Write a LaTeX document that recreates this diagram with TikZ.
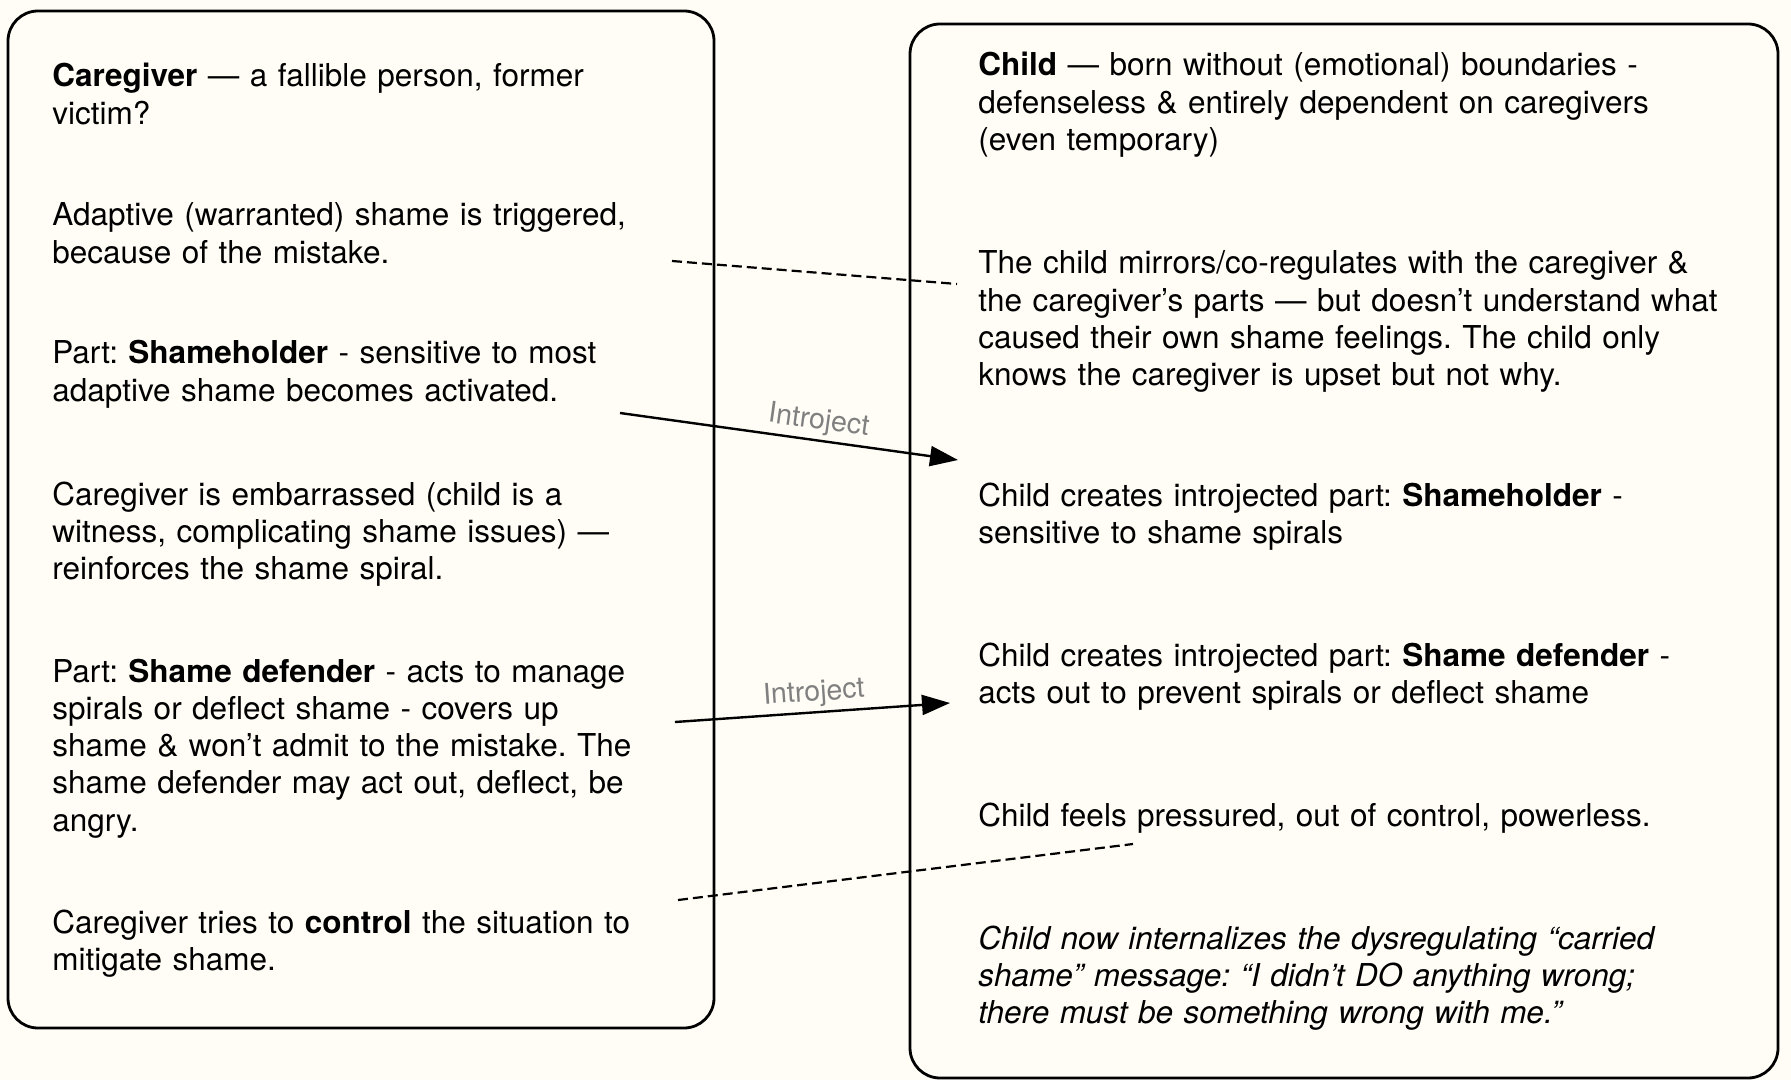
\documentclass[tikz,border=0pt]{standalone}
\usepackage{fontspec}
\setmainfont{TeX Gyre Heros}
\usetikzlibrary{arrows.meta}
\definecolor{paper}{HTML}{FFFDF6}
\definecolor{tagGray}{HTML}{808080}
\frenchspacing

\tikzset{
  panel/.style={draw=black, line width=1.4pt, rounded corners=15pt},
  blurb/.style={anchor=base west, inner sep=0pt, align=left, text width=#1,
    font=\fontsize{15.75}{18.65}\selectfont},
  blurb/.default=340pt,
  introject/.style={-{Triangle[length=14pt,width=10pt]}, line width=1.2pt},
  echo/.style={line width=1.1pt, dash pattern=on 5pt off 2.5pt},
  tag/.style={sloped, above, text=tagGray, inner sep=2pt,
    font=\fontsize{14.3}{16}\selectfont}
}

\begin{document}
\begin{tikzpicture}[x=0.5pt, y=-0.5pt]
        % page
        \fill[paper] (0,0) rectangle (1791,1080);
        \useasboundingbox (0,0) rectangle (1791,1080);

        % two panels
        \draw[panel] (8,11) rectangle (714,1028);
        \draw[panel] (910,24) rectangle (1778,1078);

        % caregiver side
        % ---------------
        \node[blurb] (cgWho) at (52,87)
            {\textbf{Caregiver} — a fallible person, former\\victim?};
        \node[blurb] (cgAdaptive) at (52,226)
            {Adaptive (warranted) shame is triggered,\\because of the mistake.};
        \node[blurb] (cgHolder) at (52,364)
            {Part: \textbf{Shameholder} - sensitive to most\\adaptive shame becomes activated.};
        \node[blurb] (cgEmbarrassed) at (52,505)
            {Caregiver is embarrassed (child is a\\witness, complicating shame issues) —\\reinforces the shame spiral.};
        \node[blurb] (cgDefender) at (52,682)
            {Part: \textbf{Shame defender} - acts to manage\\spirals or deflect shame - covers up\\shame \& won’t admit to the mistake. The\\shame defender may act out, deflect, be\\angry.};
        \node[blurb] (cgControl) at (52,933)
            {Caregiver tries to \textbf{control} the situation to\\mitigate shame.};

        % child side
        % ----------
        \node[blurb=400pt] (chWho) at (978,76)
            {\textbf{Child} — born without (emotional) boundaries -\\defenseless \& entirely dependent on caregivers\\(even temporary)};
        \node[blurb=400pt] (chMirror) at (978,274)
            {The child mirrors/co-regulates with the caregiver \&\\the caregiver’s parts — but doesn’t understand what\\caused their own shame feelings. The child only\\knows the caregiver is upset but not why.};
        \node[blurb=400pt] (chHolder) at (978,506)
            {Child creates introjected part: \textbf{Shameholder} -\\sensitive to shame spirals};
        \node[blurb=400pt] (chDefender) at (978,666)
            {Child creates introjected part: \textbf{Shame defender} -\\acts out to prevent spirals or deflect shame};
        \node[blurb=400pt] (chPressured) at (978,826)
            {Child feels pressured, out of control, powerless.};
        \node[blurb=400pt] (chCarried) at (978,949)
            {\itshape Child now internalizes the dysregulating “carried\\shame” message: “I didn’t DO anything wrong;\\there must be something wrong with me.”};

        % link ends
        \coordinate (mistakeEnd) at (672,261);
        \coordinate (mirrorEnd) at (957,284);
        \coordinate (holderStart) at (620,413);
        \coordinate (holderTip) at (958,460);
        \coordinate (defenderStart) at (675,722);
        \coordinate (defenderTip) at (950,703);
        \coordinate (controlEnd) at (678,900);
        \coordinate (pressuredEnd) at (1133,844);

        % links
        \draw[echo] (mistakeEnd) -- (mirrorEnd);
        \draw[introject] (holderStart) -- node[tag, pos=0.58] (tagHolder) {Introject} (holderTip);
        \draw[introject] (defenderStart) -- node[tag, pos=0.51] (tagDefender) {Introject} (defenderTip);
        \draw[echo] (controlEnd) -- (pressuredEnd);

    \end{tikzpicture}
\end{document}
